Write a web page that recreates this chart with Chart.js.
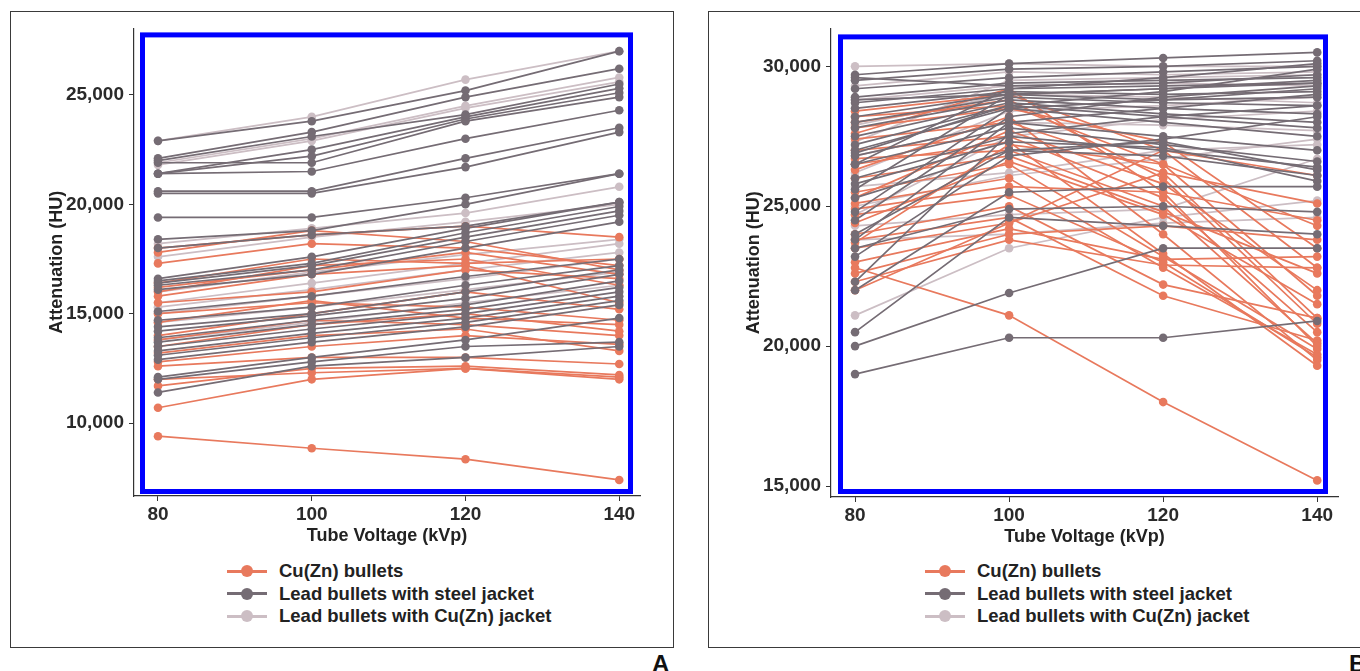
<!DOCTYPE html>
<html>
<head>
<meta charset="utf-8">
<script src="https://cdn.jsdelivr.net/npm/chart.js@4.4.1/dist/chart.umd.min.js"></script>
<style>
  body { margin: 0; background: #fff; width: 1360px; height: 671px; overflow: hidden; position: relative;
         font-family: "Liberation Sans", Arial, Helvetica, sans-serif; }
  .panel { position: absolute; border: 1px solid #3a3a3a; box-sizing: border-box; }
  canvas { position: absolute; }
  .legend { position: absolute; font-weight: bold; font-size: 18.5px; color: #222; }
  .row { height: 22.5px; line-height: 22.5px; white-space: nowrap; display: flex; align-items: center; }
  .mark { position: relative; width: 40px; height: 22px; margin-right: 12px; flex: none; }
  .mark .ln { position: absolute; left: 0; right: 0; top: 9.5px; height: 3px; }
  .mark .dot { position: absolute; left: 14px; top: 5px; width: 12px; height: 12px; border-radius: 50%; }
  .tag { position: absolute; font-weight: bold; font-size: 24px; line-height: 24px; color: #111; }
</style>
</head>
<body>
<div class="panel" style="left:10px; top:11px; width:664px; height:637px;"></div>
<div class="panel" style="left:708px; top:11px; width:680px; height:637px;"></div>
<canvas id="chartA" width="620" height="538" style="left:40px; top:12px;"></canvas>
<canvas id="chartB" width="621" height="539" style="left:737px; top:12px;"></canvas>
<div class="legend" id="legA" style="left:227px; top:560px;"></div>
<div class="legend" id="legB" style="left:925px; top:560px;"></div>
<div class="tag" style="left:652px; top:652px;">A</div>
<div class="tag" style="left:1349px; top:652px;">B</div>

<script>
// tube voltages (x) and tick labels
const voltages = [80, 100, 120, 140];
const leftYTicks = [10000, 15000, 20000, 25000];
const rightYTicks = [15000, 20000, 25000, 30000];

const seriesNames = ['Cu(Zn) bullets', 'Lead bullets with steel jacket', 'Lead bullets with Cu(Zn) jacket'];
const seriesColors = ['#E8795D', '#756C74', '#CCBEC4'];

// panel A - one row per bullet: values at 80, 100, 120, 140 kVp
const leftCu = [
  [9400, 8850, 8350, 7400],
  [10700, 12000, 12500, 12000],
  [11700, 12500, 12600, 12200],
  [12000, 12300, 12500, 12100],
  [12600, 13000, 13000, 12700],
  [12800, 13500, 14000, 13600],
  [13200, 14000, 14300, 13300],
  [13500, 14500, 15000, 14200],
  [13800, 14700, 14500, 14000],
  [14000, 15000, 16000, 15200],
  [14600, 15600, 14800, 14500],
  [15000, 15500, 15300, 14700],
  [15500, 16000, 17000, 16600],
  [15800, 16800, 17200, 15500],
  [16000, 17200, 17500, 16300],
  [16200, 17000, 17800, 16800],
  [16400, 17500, 17300, 17500],
  [17300, 18200, 18000, 17200],
  [17800, 18800, 18300, 17000],
  [18000, 18600, 19000, 18500]
];
const leftSteel = [
  [22900, 23800, 25200, 27000],
  [22100, 23300, 24900, 26200],
  [22000, 23100, 24100, 25500],
  [21400, 22500, 24000, 25300],
  [21400, 22200, 23900, 25100],
  [21900, 21900, 23800, 24900],
  [21400, 21500, 23000, 24300],
  [20600, 20600, 22100, 23500],
  [20500, 20500, 21700, 23300],
  [19400, 19400, 20300, 21400],
  [18400, 18800, 20000, 21400],
  [18000, 18600, 19000, 20100],
  [16600, 17600, 18900, 20100],
  [16500, 17300, 18700, 19900],
  [16400, 17200, 18500, 19700],
  [16300, 17000, 18300, 19500],
  [16100, 16800, 18000, 19200],
  [15100, 15800, 16700, 17500],
  [14700, 15300, 16300, 17200],
  [14400, 15000, 16000, 17000],
  [14200, 14900, 15700, 16800],
  [13900, 14700, 15400, 16500],
  [13700, 14500, 15200, 16200],
  [13500, 14300, 15000, 16000],
  [13300, 14100, 14800, 15800],
  [13100, 13900, 14600, 15600],
  [12900, 13700, 14400, 15400],
  [12100, 13000, 13800, 14800],
  [12000, 12800, 13500, 13700],
  [11400, 12600, 13000, 13500]
];
const leftCuJacket = [
  [22900, 24000, 25700, 27000],
  [21900, 23000, 24500, 25800],
  [21800, 22900, 24400, 25600],
  [18200, 18900, 19600, 20800],
  [17600, 18500, 19200, 20000],
  [16000, 16900, 17700, 18400],
  [15500, 16400, 17300, 18200],
  [15300, 16100, 17000, 17800],
  [15000, 15800, 16600, 17500],
  [14600, 15300, 16100, 16900],
  [13800, 14600, 15500, 16300]
];

// panel B
const rightCu = [
  [22800, 21100, 18000, 15200],
  [28400, 29000, 27000, 22800],
  [28200, 28600, 26500, 21800],
  [28000, 28800, 26000, 20800],
  [27800, 28500, 27300, 23500],
  [27600, 29200, 25500, 20000],
  [27400, 28000, 26200, 21000],
  [27000, 27500, 25300, 20500],
  [26700, 27000, 25000, 20100],
  [26500, 27300, 23300, 19300],
  [26300, 28200, 24000, 19500],
  [26000, 26800, 24800, 22600],
  [25500, 26500, 23200, 19900],
  [25300, 27700, 25800, 22000],
  [25100, 26000, 22800, 19700],
  [24900, 25700, 25500, 24500],
  [24700, 25400, 23000, 19600],
  [24400, 26600, 24700, 21500],
  [24000, 25000, 22200, 21000],
  [23800, 24600, 21800, 20200],
  [23700, 27200, 26500, 24300],
  [23500, 24400, 26200, 25100],
  [23000, 24200, 23100, 23200],
  [22600, 24000, 24300, 23800],
  [22300, 23800, 22900, 22800],
  [22000, 24400, 27000, 26100]
];
const rightSteel = [
  [19000, 20300, 20300, 20900],
  [20000, 21900, 23500, 23500],
  [20500, 24600, 24300, 24000],
  [22000, 25500, 25700, 25700],
  [22300, 27600, 28200, 28600],
  [23200, 26800, 27400, 28200],
  [23500, 24900, 25000, 24800],
  [23800, 28000, 28500, 29000],
  [24000, 27000, 27300, 26300],
  [24500, 28200, 28900, 29300],
  [24800, 28500, 28800, 29200],
  [25300, 27000, 26800, 26100],
  [25600, 29000, 29200, 29400],
  [25800, 27300, 27100, 25900],
  [26000, 27500, 27000, 26400],
  [26500, 27800, 27200, 26600],
  [26500, 29200, 29600, 30100],
  [26800, 28000, 27500, 27000],
  [26900, 28600, 29100, 29900],
  [27000, 28500, 28000, 27500],
  [27200, 28600, 28200, 27800],
  [27500, 28700, 28300, 28000],
  [27800, 28800, 28500, 28300],
  [28000, 28900, 28700, 28600],
  [28200, 29000, 28800, 28900],
  [28500, 29100, 29000, 29100],
  [28700, 29200, 29300, 29400],
  [28800, 29000, 29200, 29500],
  [28900, 29400, 29500, 29600],
  [29200, 29600, 29800, 30000],
  [29500, 29900, 30000, 30200],
  [29600, 29300, 29400, 29700],
  [29700, 30100, 30300, 30500]
];
const rightCuJacket = [
  [30000, 30100, 30000, 30000],
  [29300, 29800, 29700, 29800],
  [28800, 29300, 29400, 29300],
  [27900, 29000, 28900, 28700],
  [27300, 29500, 29600, 29700],
  [26800, 28000, 27900, 27700],
  [26200, 28400, 28600, 28900],
  [25700, 26200, 27000, 27200],
  [25000, 26100, 26700, 27400],
  [24700, 27500, 28100, 28400],
  [24300, 24700, 24900, 26700],
  [23800, 24000, 24400, 24600],
  [21100, 23500, 24600, 25200]
];

const fontFamily = '"Liberation Sans", Arial, Helvetica, sans-serif';

function lineSets(rows, color) {
  return rows.map(r => ({
    data: r.map((v, i) => ({x: voltages[i], y: v})),
    borderColor: color,
    backgroundColor: color,
    pointBackgroundColor: color,
    borderWidth: 1.7,
    pointRadius: 4.3,
    pointBorderWidth: 0,
    tension: 0
  }));
}

// blue highlight frame drawn over the plotting area
function framePlugin(inset) {
  return {
    id: 'blueFrame',
    afterDatasetsDraw(chart) {
      const a = chart.chartArea, c = chart.ctx;
      c.save();
      c.strokeStyle = '#0000FF';
      c.lineWidth = 5;
      c.strokeRect(a.left + inset.l, a.top + inset.t,
        a.right - inset.r - a.left - inset.l, a.bottom - inset.b - a.top - inset.t);
      c.restore();
    }
  };
}

function makeChart(id, cu, steel, cuJ, yMin, yMax, yTicks, inset) {
  // first dataset ends up on top
  const datasets = [].concat(lineSets(steel, seriesColors[1]), lineSets(cu, seriesColors[0]), lineSets(cuJ, seriesColors[2]));
  return new Chart(document.getElementById(id), {
    type: 'line',
    data: {datasets: datasets},
    options: {
      responsive: false,
      animation: false,
      layout: {padding: {top: 10, right: 20, left: 0, bottom: 0}},
      plugins: {legend: {display: false}, tooltip: {enabled: false}},
      scales: {
        x: {
          type: 'linear',
          min: 76.88, max: 142.7,
          afterBuildTicks: ax => { ax.ticks = voltages.map(v => ({value: v})); },
          afterFit: ax => { ax.height = 54; },
          ticks: {font: {family: fontFamily, size: 19, weight: 'bold'}, color: '#2a2a2a', padding: 2,
                  callback: v => String(v)},
          grid: {display: true, drawOnChartArea: false, tickLength: 5, color: '#333'},
          border: {display: true, color: '#333', width: 1.2},
          title: {display: true, text: 'Tube Voltage (kVp)', color: '#222',
                  font: {family: fontFamily, size: 18, weight: 'bold'}, padding: {top: 0, bottom: 3}}
        },
        y: {
          min: yMin, max: yMax,
          afterBuildTicks: ax => { ax.ticks = yTicks.map(v => ({value: v})); },
          afterFit: ax => { ax.width = 94; },
          ticks: {font: {family: fontFamily, size: 19, weight: 'bold'}, color: '#2a2a2a', padding: 5,
                  callback: v => v.toLocaleString('en-US')},
          grid: {display: true, drawOnChartArea: false, tickLength: 5, color: '#333'},
          border: {display: true, color: '#333', width: 1.2},
          title: {display: true, text: 'Attenuation (HU)', color: '#222',
                  font: {family: fontFamily, size: 18, weight: 'bold'}, padding: {top: 6, bottom: 0}}
        }
      }
    },
    plugins: [framePlugin(inset)]
  });
}

makeChart('chartA', leftCu, leftSteel, leftCuJacket, 6667, 28041, leftYTicks, {l: 8.5, r: 9.5, t: 6.5, b: 4.5});
makeChart('chartB', rightCu, rightSteel, rightCuJacket, 14607, 31357, rightYTicks, {l: 9.5, r: 12.5, t: 8.5, b: 5.5});

function buildLegend(id) {
  const el = document.getElementById(id);
  seriesNames.forEach((name, i) => {
    const row = document.createElement('div');
    row.className = 'row';
    row.innerHTML = '<span class="mark"><span class="ln" style="background:' + seriesColors[i] + '"></span>' +
      '<span class="dot" style="background:' + seriesColors[i] + '"></span></span><span>' + name + '</span>';
    el.appendChild(row);
  });
}
buildLegend('legA');
buildLegend('legB');
</script>
</body>
</html>
